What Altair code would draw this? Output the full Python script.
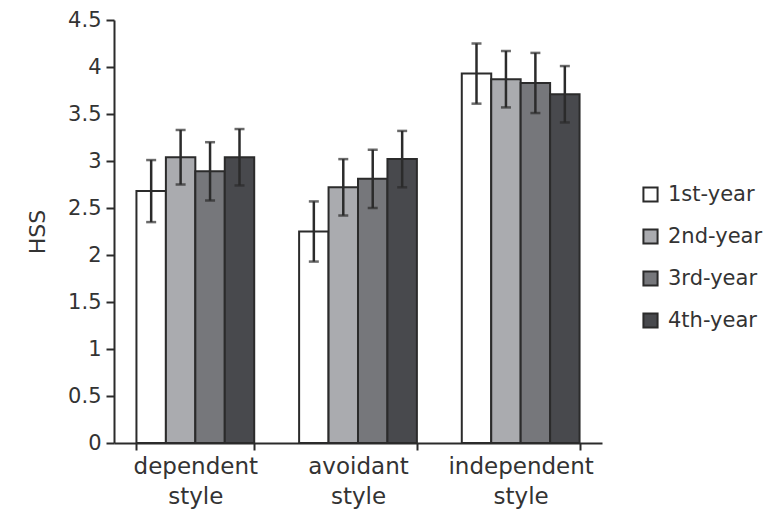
import altair as alt
import pandas as pd

# Mean HSS score and error (half-length of the error bar) per style and year
styles = ["dependent style", "avoidant style", "independent style"]
years = ["1st-year", "2nd-year", "3rd-year", "4th-year"]
means = {
    "dependent style": [2.68, 3.04, 2.89, 3.04],
    "avoidant style": [2.25, 2.72, 2.81, 3.02],
    "independent style": [3.93, 3.87, 3.83, 3.71],
}
errors = {
    "dependent style": [0.33, 0.29, 0.31, 0.30],
    "avoidant style": [0.32, 0.30, 0.31, 0.30],
    "independent style": [0.32, 0.30, 0.32, 0.30],
}
fills = ["#ffffff", "#aaabaf", "#76777b", "#48494d"]
y_ticks = [0, 0.5, 1, 1.5, 2, 2.5, 3, 3.5, 4, 4.5]

rows = []
for s in styles:
    for y, m, e in zip(years, means[s], errors[s]):
        rows.append({"style": s, "year": y, "mean": m, "lo": m - e, "hi": m + e})
df = pd.DataFrame(rows)

FONT = "DejaVu Sans"
INK = "#2b2b2b"
TEXT = "#333333"

x = alt.X(
    "style:N",
    sort=styles,
    title=None,
    scale=alt.Scale(paddingInner=0.276, paddingOuter=0.138),
    axis=alt.Axis(
        labelExpr="split(datum.label, ' ')",
        labelAngle=0,
        labelFontSize=23,
        labelLineHeight=30,
        labelPadding=5,
        labelBaseline="top",
        tickBand="extent",
        tickSize=7,
        tickWidth=2,
        tickColor=INK,
        domainColor=INK,
        domainWidth=2,
        labelColor=TEXT,
        labelFont=FONT,
    ),
)
xoff = alt.XOffset("year:N", sort=years, scale=alt.Scale(paddingInner=0, paddingOuter=0))

base = alt.Chart(df).encode(x=x, xOffset=xoff)

bars = base.mark_bar(stroke=INK, strokeWidth=2).encode(
    y=alt.Y(
        "mean:Q",
        title="HSS",
        scale=alt.Scale(domain=[0, 4.5], nice=False),
        axis=alt.Axis(
            values=y_ticks,
            format="~g",
            grid=False,
            tickSize=8,
            tickWidth=2,
            tickColor=INK,
            domainColor=INK,
            domainWidth=2,
            labelFontSize=21,
            labelPadding=5,
            labelColor=TEXT,
            labelFont=FONT,
            titleFont=FONT,
            titleFontSize=22,
            titleFontWeight="normal",
            titleColor=TEXT,
            titlePadding=18,
        ),
    ),
    fill=alt.Fill(
        "year:N",
        sort=years,
        scale=alt.Scale(domain=years, range=fills),
        legend=alt.Legend(
            title=None,
            orient="none",
            legendX=526,
            legendY=164,
            symbolType="square",
            symbolSize=200,
            symbolStrokeColor=INK,
            symbolStrokeWidth=2,
            labelFontSize=21,
            labelFont=FONT,
            labelColor=TEXT,
            labelOffset=7,
            rowPadding=19,
        ),
    ),
)

whiskers = base.mark_rule(color=INK, strokeWidth=2.5).encode(
    y="lo:Q", y2="hi:Q"
)
cap_hi = base.mark_tick(color=INK, thickness=2.5, size=10).encode(y="hi:Q")
cap_lo = base.mark_tick(color=INK, thickness=2.5, size=10).encode(y="lo:Q")

chart = (
    alt.layer(bars, whiskers, cap_hi, cap_lo)
    .properties(
        width=488,
        height=423,
        autosize="none",
        padding={"left": 114, "top": 20, "right": 172, "bottom": 78},
        view=alt.ViewBackground(stroke="transparent", strokeWidth=0),
    )
    .configure_view(strokeWidth=0, stroke="transparent")
    .configure(background="white")
)

chart.save("out.html", embed_options={"renderer": "svg", "actions": False})
